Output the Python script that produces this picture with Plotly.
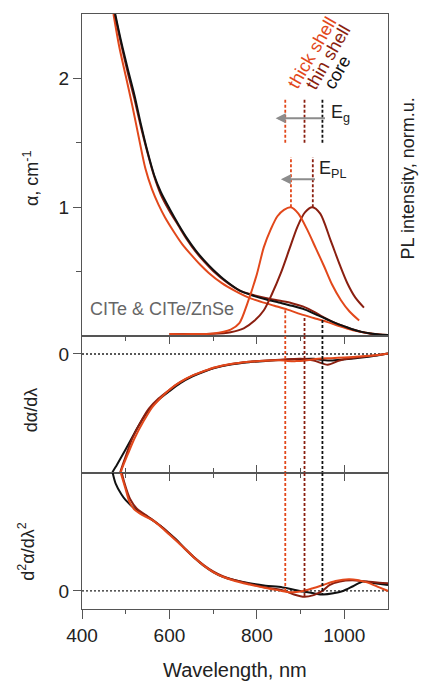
import plotly.graph_objects as go

# ---------------- data ----------------
# absorption (top panel)
wl_core = [476, 490, 505, 520, 535, 550, 565, 580, 600, 620, 640, 660, 680, 700, 730, 760, 790, 820, 850, 880, 910, 940, 960, 980, 1000, 1020, 1040, 1060, 1080, 1100]
abs_core = [2.5, 2.28, 2.07, 1.87, 1.64, 1.43, 1.25, 1.12, 0.99, 0.87, 0.76, 0.665, 0.585, 0.515, 0.425, 0.355, 0.315, 0.285, 0.26, 0.235, 0.205, 0.16, 0.13, 0.10, 0.075, 0.05, 0.032, 0.02, 0.012, 0.008]
wl_thin = [475, 490, 505, 520, 535, 550, 565, 580, 600, 620, 640, 660, 680, 700, 730, 760, 790, 820, 850, 880, 905, 930, 950, 970, 1000, 1020, 1040, 1060, 1080, 1100]
abs_thin = [2.5, 2.26, 2.04, 1.84, 1.62, 1.42, 1.24, 1.1, 0.97, 0.86, 0.75, 0.655, 0.575, 0.505, 0.42, 0.355, 0.32, 0.295, 0.275, 0.255, 0.23, 0.19, 0.15, 0.115, 0.075, 0.05, 0.03, 0.018, 0.01, 0.006]
wl_thick = [472, 485, 500, 515, 530, 545, 560, 575, 590, 610, 630, 650, 670, 690, 720, 750, 780, 810, 840, 870, 900, 930, 960, 990, 1020, 1050, 1080, 1100]
abs_thick = [2.5, 2.25, 2.02, 1.79, 1.54, 1.3, 1.14, 1.02, 0.92, 0.81, 0.71, 0.63, 0.555, 0.49, 0.41, 0.35, 0.3, 0.265, 0.235, 0.205, 0.17, 0.14, 0.11, 0.075, 0.045, 0.025, 0.012, 0.008]

# photoluminescence (top panel, normalised)
wl_pl_thick = [600, 650, 700, 740, 760, 778, 800, 816, 832, 847, 862, 878, 895, 916, 935, 954, 972, 992, 1012, 1034]
pl_thick = [0.015, 0.015, 0.02, 0.05, 0.1, 0.25, 0.48, 0.69, 0.83, 0.93, 0.98, 1.0, 0.95, 0.82, 0.68, 0.54, 0.4, 0.28, 0.19, 0.12]
wl_pl_thin = [600, 650, 700, 740, 770, 795, 816, 835, 855, 875, 893, 910, 927, 945, 969, 990, 1007, 1025, 1045]
pl_thin = [0.015, 0.015, 0.017, 0.03, 0.06, 0.12, 0.2, 0.33, 0.49, 0.68, 0.85, 0.96, 1.0, 0.95, 0.74, 0.55, 0.41, 0.3, 0.22]

# first derivative (middle panel)
wl_d1_core = [465, 469, 480, 500, 515, 530, 553, 575, 599, 625, 653, 680, 705, 740, 782, 820, 860, 900, 930, 950, 970, 1000, 1040, 1070, 1100]
d1_core = [-1.06, -1.0, -0.93, -0.8, -0.7, -0.6, -0.47, -0.385, -0.315, -0.245, -0.188, -0.147, -0.117, -0.089, -0.069, -0.058, -0.05, -0.043, -0.041, -0.05, -0.055, -0.045, -0.03, -0.015, 0.005]
wl_d1_thin = [480, 487, 500, 515, 530, 553, 575, 599, 625, 653, 680, 705, 740, 782, 820, 860, 900, 930, 962, 985, 1000, 1040, 1070, 1100]
d1_thin = [-1.1, -1.0, -0.86, -0.71, -0.6, -0.46, -0.375, -0.305, -0.237, -0.182, -0.143, -0.113, -0.086, -0.066, -0.055, -0.047, -0.04, -0.055, -0.09, -0.06, -0.045, -0.025, -0.012, 0.005]
wl_d1_thick = [480, 490, 505, 520, 540, 560, 580, 600, 625, 653, 680, 705, 740, 782, 820, 850, 870, 890, 915, 940, 970, 1000, 1040, 1070, 1100]
d1_thick = [-1.12, -0.98, -0.84, -0.71, -0.57, -0.45, -0.37, -0.3, -0.235, -0.18, -0.142, -0.112, -0.085, -0.066, -0.056, -0.052, -0.058, -0.06, -0.052, -0.04, -0.035, -0.03, -0.02, -0.01, 0.005]

# second derivative (bottom panel)
wl_d2_core = [465, 469, 477, 490, 500, 523, 545, 561, 580, 599, 620, 637, 660, 676, 700, 722, 750, 783, 820, 859, 905, 930, 951, 975, 997, 1020, 1043, 1070, 1100]
d2_core = [1.1, 1.02, 0.91, 0.82, 0.77, 0.69, 0.64, 0.6, 0.55, 0.49, 0.42, 0.35, 0.27, 0.22, 0.16, 0.12, 0.09, 0.065, 0.045, 0.03, -0.005, -0.02, -0.03, -0.02, 0.0, 0.04, 0.08, 0.065, 0.05]
wl_d2_thin = [485, 491, 500, 510, 525, 545, 561, 580, 600, 620, 640, 660, 680, 700, 722, 750, 783, 820, 860, 885, 909, 930, 950, 966, 990, 1018, 1050, 1080, 1100]
d2_thin = [1.1, 1.0, 0.88, 0.78, 0.7, 0.645, 0.605, 0.55, 0.485, 0.415, 0.345, 0.275, 0.215, 0.165, 0.125, 0.09, 0.06, 0.03, 0.005, -0.03, -0.05, -0.035, 0.0, 0.05, 0.08, 0.09, 0.08, 0.07, 0.065]
wl_d2_thick = [483, 489, 500, 508, 520, 540, 561, 580, 599, 620, 640, 660, 680, 700, 722, 750, 783, 820, 850, 873, 900, 930, 951, 980, 1012, 1050, 1080, 1100]
d2_thick = [1.1, 1.0, 0.86, 0.76, 0.69, 0.64, 0.6, 0.545, 0.48, 0.41, 0.34, 0.27, 0.21, 0.16, 0.12, 0.085, 0.055, 0.025, 0.005, -0.01, -0.005, 0.025, 0.05, 0.085, 0.1, 0.075, 0.03, 0.0]

# band-gap markers (nm) and the top / bottom ends of their dashed guides
sample_names = ["thick shell", "thin shell", "core"]
eg_wl = [865, 909, 950]
eg_top_abs = [0.2, 0.14, 0.125]
eg_end_d2 = [-0.01, -0.05, -0.03]
eg_mark_range = [1.5, 1.845]
pl_peak_wl = [878, 928]
pl_mark_range = [1.0, 1.39]
eg_arrow = [965, 843, 1.69]
pl_arrow = [942, 855, 1.217]

# ---------------- styling ----------------
C_CORE = "#111111"
C_THIN = "#8a1f10"
C_THICK = "#e2481b"
colors = [C_THICK, C_THIN, C_CORE]
FONT = "Liberation Sans, Arial, sans-serif"
AX = "#555555"
FS = 19
LW = 2

fig = go.Figure()

def line(x, y, color, xa, ya, width=LW, dash=None, smooth=False):
    fig.add_trace(go.Scatter(x=x, y=y, mode="lines", xaxis=xa, yaxis=ya,
                             line=dict(color=color, width=width, dash=dash,
                                       shape="spline" if smooth else "linear",
                                       smoothing=0.8 if smooth else None),
                             showlegend=False, hoverinfo="skip"))

# top panel
line(wl_thick, abs_thick, C_THICK, "x", "y", smooth=True)
line(wl_thin, abs_thin, C_THIN, "x", "y", smooth=True)
line(wl_core, abs_core, C_CORE, "x", "y", smooth=True)
line(wl_pl_thin, pl_thin, C_THIN, "x", "y", smooth=True)
line(wl_pl_thick, pl_thick, C_THICK, "x", "y", smooth=True)

# middle panel
line([400, 1100], [0, 0], "#222222", "x2", "y2", width=1.3, dash="2px,2px")
line(wl_d1_core, d1_core, C_CORE, "x2", "y2", smooth=True)
line(wl_d1_thin, d1_thin, C_THIN, "x2", "y2", smooth=True)
line(wl_d1_thick, d1_thick, C_THICK, "x2", "y2", smooth=True)

# bottom panel
line([400, 1100], [0, 0], "#222222", "x3", "y3", width=1.3, dash="2px,2px")
line(wl_d2_core, d2_core, C_CORE, "x3", "y3", smooth=True)
line(wl_d2_thin, d2_thin, C_THIN, "x3", "y3", smooth=True)
line(wl_d2_thick, d2_thick, C_THICK, "x3", "y3", smooth=True)

DASH = "3px,2px"
Y2_RANGE = [-1.0, 0.151]
Y3_RANGE = [-0.153, 1.0]
for wl, top, end, c in zip(eg_wl, eg_top_abs, eg_end_d2, colors):
    line([wl, wl], [top, 0], c, "x", "y", width=1.8, dash=DASH)
    line([wl, wl], [Y2_RANGE[1], Y2_RANGE[0]], c, "x2", "y2", width=1.8, dash=DASH)
    line([wl, wl], [Y3_RANGE[1], end], c, "x3", "y3", width=1.8, dash=DASH)
    line([wl, wl], eg_mark_range, c, "x", "y", width=1.8, dash=DASH)
for wl, c in zip(pl_peak_wl, colors[:2]):
    line([wl, wl], pl_mark_range, c, "x", "y", width=1.8, dash=DASH)

# ---------------- layout ----------------
D_BOT = [0.0, 0.2286]
D_MID = [0.2286, 0.4588]
D_TOP = [0.4588, 1.0]
tickfont = dict(family=FONT, size=FS, color="#222222")
xcommon = dict(range=[400, 1100], showgrid=False, zeroline=False, showline=True,
               linecolor=AX, linewidth=1.2, tickcolor=AX, tickwidth=1.2)
ycommon = dict(showgrid=False, zeroline=False, showline=True, linecolor=AX,
               linewidth=1.2, tickcolor=AX, tickwidth=1.2, tickfont=tickfont, mirror=True)

fig.update_layout(
    width=421, height=681,
    margin=dict(l=82, r=33, t=14, b=72),
    paper_bgcolor="white", plot_bgcolor="white",
    font=dict(family=FONT, size=18, color="#222222"),
    xaxis=dict(**xcommon, anchor="y", mirror=True, ticks="", showticklabels=False),
    yaxis=dict(**ycommon, domain=D_TOP, range=[0, 2.5], tickvals=[1, 2], ticks="outside", ticklen=8,
               minor=dict(tickvals=[0.5, 1.5], ticks="outside", ticklen=5, tickcolor=AX)),
    xaxis2=dict(**xcommon, anchor="y2", mirror="ticks", ticks="inside", ticklen=8,
                tickvals=[400, 600, 800, 1000], showticklabels=False,
                minor=dict(tickvals=[500, 700, 900], ticks="inside", ticklen=5, tickcolor=AX)),
    yaxis2=dict(**ycommon, domain=D_MID, range=Y2_RANGE, tickvals=[0], ticks="outside", ticklen=8),
    xaxis3=dict(**xcommon, anchor="y3", mirror=True, ticks="outside", ticklen=9,
                tickvals=[400, 600, 800, 1000], tickfont=tickfont,
                minor=dict(tickvals=[500, 700, 900], ticks="outside", ticklen=4, tickcolor=AX)),
    xaxis4=dict(range=[400, 1100], overlaying="x3", anchor="y3", side="top", showgrid=False,
                zeroline=False, showline=False, ticks="inside", ticklen=8, tickcolor=AX, tickwidth=1.2,
                tickvals=[400, 600, 800, 1000], showticklabels=False,
                minor=dict(tickvals=[500, 700, 900], ticks="inside", ticklen=5, tickcolor=AX)),
    yaxis3=dict(**ycommon, domain=D_BOT, range=Y3_RANGE, tickvals=[0], ticks="outside", ticklen=8),
)
# invisible trace to activate xaxis4
fig.add_trace(go.Scatter(x=[400], y=[0], xaxis="x4", yaxis="y3", mode="markers",
                         marker=dict(opacity=0), showlegend=False, hoverinfo="skip"))

ann = []
# axis titles
ann.append(dict(text="α, cm<sup>-1</sup>", xref="paper", yref="paper", x=-0.167, y=0.724,
                textangle=-90, showarrow=False, xanchor="center", yanchor="middle"))
ann.append(dict(text="dα/dλ", xref="paper", yref="paper", x=-0.167, y=0.334,
                textangle=-90, showarrow=False, xanchor="center", yanchor="middle"))
ann.append(dict(text="d<sup>2</sup>α/dλ<sup>2</sup>", xref="paper", yref="paper", x=-0.18, y=0.096,
                textangle=-90, showarrow=False, xanchor="center", yanchor="middle"))
ann.append(dict(text="Wavelength, nm", xref="paper", yref="paper", x=0.5, y=-0.1025,
                showarrow=False, xanchor="center", yanchor="middle", font=dict(size=20)))
ann.append(dict(text="PL intensity, norm.u.", xref="paper", yref="paper", x=1.066, y=0.724,
                textangle=-90, showarrow=False, xanchor="center", yanchor="middle", font=dict(size=18)))
ann.append(dict(text="CITe & CITe/ZnSe", xref="x", yref="y", x=582, y=0.21,
                showarrow=False, xanchor="center", yanchor="middle", font=dict(color="#666666", size=18)))
# sample labels
for name, wl, c in zip(sample_names, [855, 896, 939], colors):
    ann.append(dict(text=name, xref="x", yref="y", x=wl, y=1.87, textangle=-60, showarrow=False,
                    xanchor="left", yanchor="bottom", font=dict(color=c, size=18)))
ann.append(dict(text="E<sub>g</sub>", xref="x", yref="y", x=965, y=1.73, showarrow=False,
                xanchor="left", yanchor="middle"))
ann.append(dict(text="E<sub>PL</sub>", xref="x", yref="y", x=937, y=1.29, showarrow=False,
                xanchor="left", yanchor="middle"))
# arrows
for tail, head, yv in [eg_arrow, pl_arrow]:
    ann.append(dict(x=head, y=yv, ax=tail, ay=yv, xref="x", yref="y", axref="x", ayref="y",
                    text=" ", showarrow=True, arrowhead=2, arrowsize=1, arrowwidth=2,
                    arrowcolor="#8c8c8c"))
fig.update_layout(annotations=ann)

fig.write_html("out.html")
